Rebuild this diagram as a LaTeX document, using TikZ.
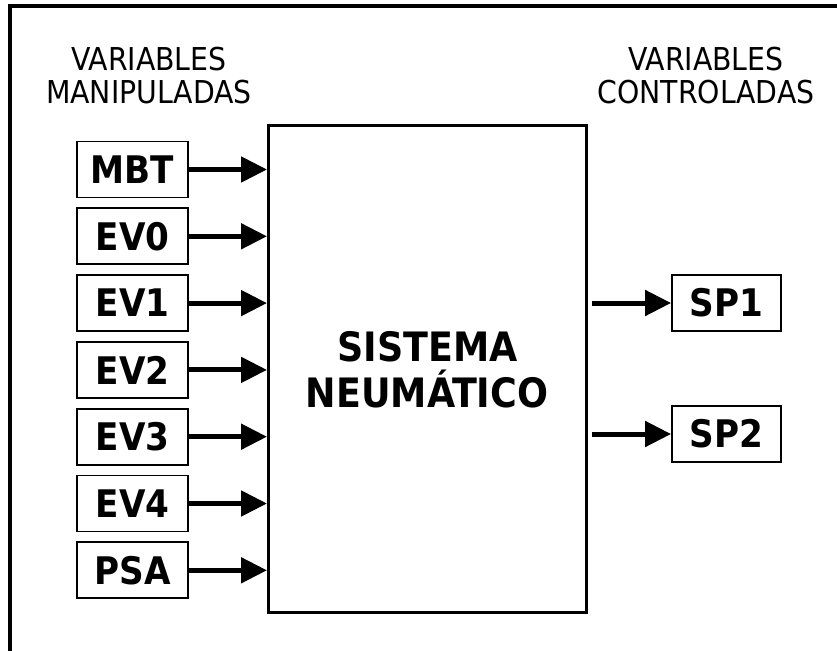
\documentclass[tikz,border=0pt]{standalone}
\usepackage{fontspec}
\setmainfont{DejaVu Sans Condensed}
\usetikzlibrary{arrows.meta}
\begin{document}
\begin{tikzpicture}[x=1pt,y=-1pt,
  frameline/.style={line width=4pt},
  mainbox/.style={draw,line width=3pt,minimum width=317.5pt,minimum height=487pt,inner sep=0pt},
  lbox/.style={draw,line width=1.8pt,minimum width=111pt,minimum height=56pt,inner sep=0pt,
    font=\bfseries\fontsize{38}{38}\selectfont},
  rbox/.style={lbox,minimum width=109pt},
  head/.style={anchor=base,inner sep=0pt,font=\fontsize{31.5}{33}\selectfont},
  systext/.style={anchor=base,inner sep=0pt,font=\bfseries\fontsize{40.5}{45}\selectfont},
  arr/.style={line width=5pt,-{Triangle[length=26pt,width=25pt]}}]
\useasboundingbox (0,0) rectangle (837,650);
% outer frame (cropped at right and bottom)
\coordinate (fbl) at (9.5,652);
\coordinate (ftl) at (9.5,6);
\coordinate (ftr) at (840,6);
\draw[frameline] (fbl) -- (ftl) -- (ftr);
% headings
\node[head] (hl1) at (149,70.7) {VARIABLES};
\node[head] (hl2) at (149,104) {MANIPULADAS};
\node[head] (hr1) at (706,70.7) {VARIABLES};
\node[head] (hr2) at (706,104) {CONTROLADAS};
% main system
\node[mainbox] (sys) at (427.25,369) {};
\node[systext] (sys1) at (427.5,361.7) {SISTEMA};
\node[systext] (sys2) at (427,407) {NEUMÁTICO};
% inputs
\node[lbox] (mbt) at (132.5,169.5) {MBT};
\node[lbox] (ev0) at (132.5,236.3) {EV0};
\node[lbox] (ev1) at (132.5,303.1) {EV1};
\node[lbox] (ev2) at (132.5,369.9) {EV2};
\node[lbox] (ev3) at (132.5,436.7) {EV3};
\node[lbox] (ev4) at (132.5,503.5) {EV4};
\node[lbox] (psa) at (132.5,570.3) {PSA};
\foreach \n in {mbt,ev0,ev1,ev2,ev3,ev4,psa}
  \draw[arr] (\n.east) -- (sys.west |- \n.east);
% outputs
\node[rbox] (sp1) at (726.5,303) {SP1};
\node[rbox] (sp2) at (726.5,434) {SP2};
\foreach \n in {sp1,sp2}
  \draw[arr] ([xshift=4pt]sys.east |- \n.west) -- (\n.west);
\end{tikzpicture}
\end{document}
